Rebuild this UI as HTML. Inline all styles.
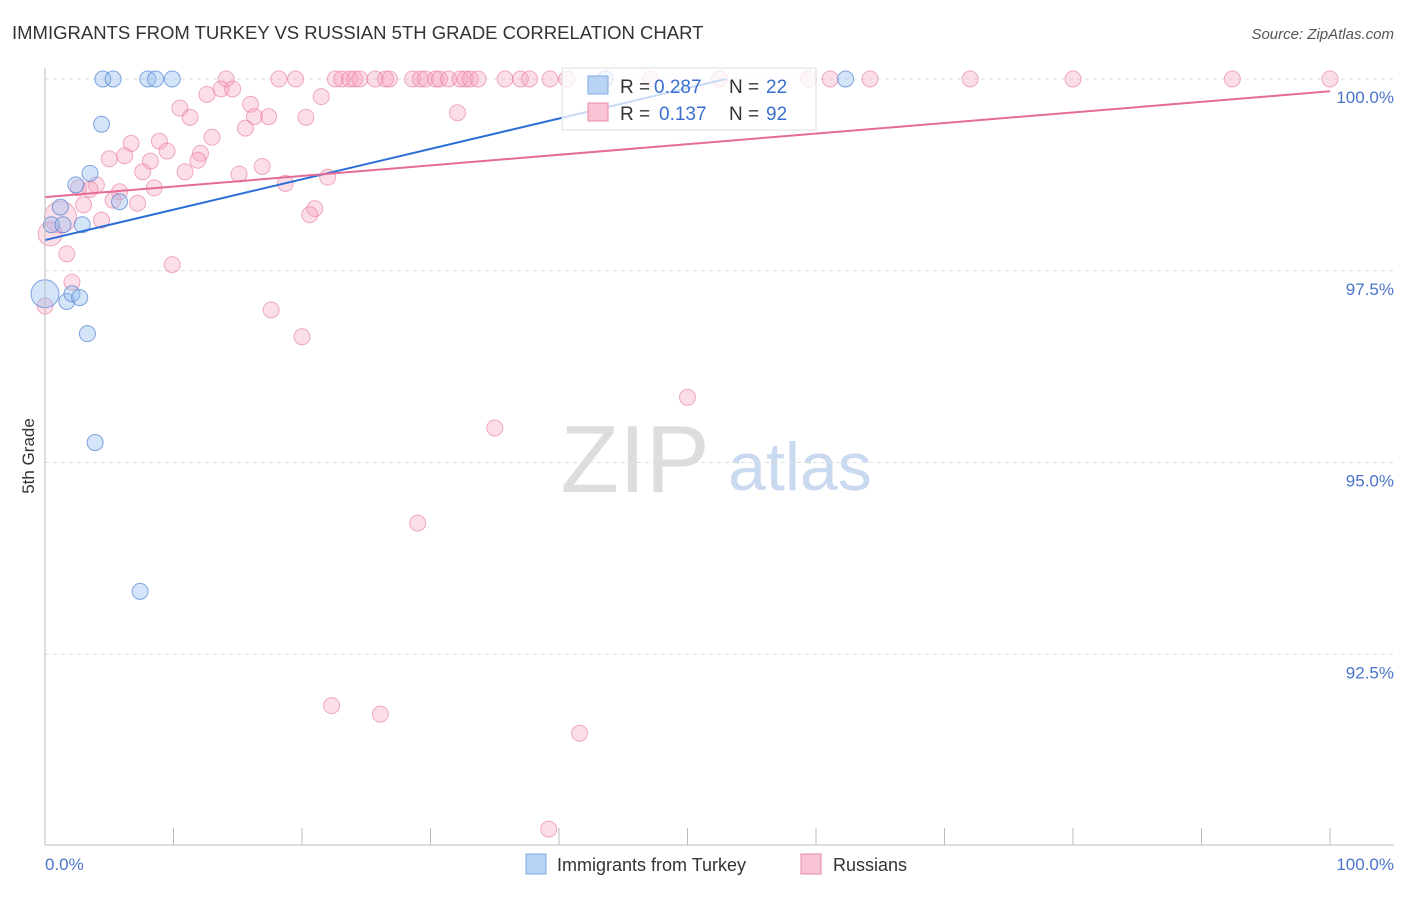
<!DOCTYPE html>
<html><head><meta charset="utf-8"><style>
body{margin:0;background:#fff;font-family:"Liberation Sans",sans-serif;}
svg text{font-family:"Liberation Sans",sans-serif;}
</style></head><body>
<svg width="1406" height="892">
<text x="12" y="39" font-size="18.5" fill="#333">IMMIGRANTS FROM TURKEY VS RUSSIAN 5TH GRADE CORRELATION CHART</text>
<text x="1394" y="39" font-size="15" fill="#555" text-anchor="end" font-style="italic">Source: ZipAtlas.com</text>
<text x="34" y="456" font-size="17" fill="#333" transform="rotate(-90 34 456)" text-anchor="middle">5th Grade</text>
<text x="635" y="492" font-size="96" fill="#ddd" font-family="Liberation Serif" text-anchor="middle">ZIP</text>
<text x="800" y="490" font-size="68" fill="#c9daf0" text-anchor="middle">atlas</text>
<g id="grid"></g><g id="pts"></g><g id="lines"></g>
<line x1="45" y1="845" x2="1394" y2="845" stroke="#bbb"/>
<line x1="45" y1="68" x2="45" y2="845" stroke="#bbb"/>
<text x="45" y="870" font-size="17" fill="#4a74c9">0.0%</text>
<text x="1394" y="870" font-size="17" fill="#4a74c9" text-anchor="end">100.0%</text>
<g>
<rect x="562" y="68" width="254" height="62" fill="rgba(255,255,255,0.75)" stroke="#ddd"/>
<rect x="588" y="76" width="20" height="18" fill="#b9d3f5" stroke="#7fa8e0"/>
<text x="620" y="93" font-size="19" fill="#333">R =</text>
<text x="654" y="93" font-size="19" fill="#3a6fd0">0.287</text>
<text x="729" y="93" font-size="19" fill="#333">N =</text>
<text x="766" y="93" font-size="19" fill="#3a6fd0">22</text>
<rect x="588" y="103" width="20" height="18" fill="#f8c4d4" stroke="#e98aa8"/>
<text x="620" y="120" font-size="19" fill="#333">R =</text>
<text x="659" y="120" font-size="19" fill="#3a6fd0">0.137</text>
<text x="729" y="120" font-size="19" fill="#333">N =</text>
<text x="766" y="120" font-size="19" fill="#3a6fd0">92</text>
</g>
<g>
<rect x="526" y="854" width="20" height="20" fill="#b9d3f5" stroke="#7fa8e0"/>
<text x="557" y="871" font-size="18" fill="#333">Immigrants from Turkey</text>
<rect x="801" y="854" width="20" height="20" fill="#f8c4d4" stroke="#e98aa8"/>
<text x="833" y="871" font-size="18" fill="#333">Russians</text>
</g>
</svg>
<script>
const yTicks=[100,97.5,95,92.5];
const yTickLabels=["100.0%","97.5%","95.0%","92.5%"];
const xTicks=[0,10,20,30,40,50,60,70,80,90,100];
const blueX=[4.5,5.3,8,8.6,9.9,62.3,4.4,3.5,2.4,1.2,0.5,1.4,2.9,5.8,0,1.7,2.1,2.7,3.3,3.9,7.4,43.6];
const blueY=[100,100,100,100,100,100,99.41,98.77,98.62,98.33,98.1,98.1,98.1,98.4,97.2,97.1,97.2,97.15,96.68,95.26,93.32,100];
const blueR=[8,8,8,8,8,8,8,8,8,8,8,8,8,8,14,8,8,8,8,8,8,8];
const pinkX=[14.1,18.2,19.5,22.6,23.1,23.7,24.1,24.5,25.7,26.5,26.8,28.6,29.2,29.6,30.4,30.7,31.4,32.3,32.7,33.1,33.7,35.8,37,37.7,39.3,40.6,47.1,52.5,59.4,61.1,64.2,72,80,92.4,100,
10.5,11.3,12.6,13.7,14.6,16,17.4,16.3,15.6,21.5,20.3,32.1,13,8.9,6.7,12.1,6.2,9.5,11.9,5,8.2,16.9,7.6,10.9,15.1,22,18.7,4,2.6,3.5,5.8,8.5,7.2,3,5.3,21,20.6,4.4,1.2,0.4,1.7,9.9,2.1,0,17.6,20,50,35,29,22.3,26.1,41.6,39.2];
const pinkY=[100,100,100,100,100,100,100,100,100,100,100,100,100,100,100,100,100,100,100,100,100,100,100,100,100,100,100,100,100,100,100,100,100,100,100,
99.62,99.5,99.8,99.87,99.87,99.67,99.51,99.51,99.36,99.77,99.5,99.56,99.24,99.19,99.16,99.03,99,99.06,98.94,98.96,98.93,98.86,98.79,98.79,98.76,98.72,98.64,98.62,98.58,98.56,98.53,98.58,98.38,98.36,98.42,98.31,98.23,98.16,98.2,97.98,97.72,97.58,97.35,97.04,96.99,96.64,95.85,95.45,94.21,91.83,91.72,91.47,90.22];
const pinkR=pinkX.map((_, i)=>i===73?16:(i===74?12:8));
const X=v=>45+v*12.85, Y=v=>79+(100-v)*76.7;
const ns="http://www.w3.org/2000/svg";
const grid=document.getElementById('grid'),pts=document.getElementById('pts'),lines=document.getElementById('lines');
function mk(t,a,p){const e=document.createElementNS(ns,t);for(const k in a)e.setAttribute(k,a[k]);p.appendChild(e);return e;}
yTicks.forEach((t,i)=>{
 const l=mk('line',{x1:45,x2:1394,y1:Y(t),y2:Y(t),stroke:'#ddd','stroke-dasharray':'4,4'},grid);
 
 
 const tx=mk('text',{x:1394,y:Y(t)+24,'font-size':17,fill:'#4a74c9','text-anchor':'end'},grid);
 tx.textContent=yTickLabels[i];
 
 
});
xTicks.forEach(t=>{
 const l=mk('line',{x1:X(t),x2:X(t),y1:828,y2:845,stroke:'#bbb'},grid);
 
 
});
pinkX.forEach((x,i)=>{
 const c=mk('circle',{cx:X(x),cy:Y(pinkY[i]),r:pinkR[i],fill:'rgba(245,160,190,0.35)',stroke:'rgba(230,120,160,0.6)'},pts);
 
 
});
blueX.forEach((x,i)=>{
 const c=mk('circle',{cx:X(x),cy:Y(blueY[i]),r:blueR[i],fill:'rgba(150,190,240,0.4)',stroke:'rgba(80,130,210,0.7)'},pts);
 
 
});
const bl=mk('line',{x1:X(0),y1:Y(97.9),x2:X(53),y2:Y(100),stroke:'#2b6fd6','stroke-width':2},lines);


const pl=mk('line',{x1:X(0),y1:Y(98.46),x2:X(100),y2:Y(99.84),stroke:'#e56b97','stroke-width':2},lines);


</script>
</body></html>
